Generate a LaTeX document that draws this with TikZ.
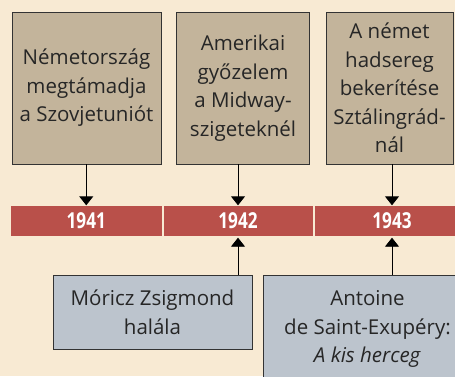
\documentclass[tikz,border=0pt]{standalone}
\usepackage{fontspec}
\setmainfont{Open Sans}
\newfontfamily\yearfont{Open Sans}[FakeStretch=0.78]
\usetikzlibrary{arrows.meta,positioning}

\definecolor{paper}{RGB}{248,234,211}
\definecolor{tanbox}{RGB}{195,180,155}
\definecolor{greybox}{RGB}{188,196,205}
\definecolor{barred}{RGB}{185,80,74}
\definecolor{boxline}{RGB}{51,51,51}

\begin{document}
\begin{tikzpicture}[x=1pt, y=-1pt,
  event/.style={draw=boxline, line width=0.9pt, fill=tanbox, align=center,
    inner sep=0pt, text=black!85, font=\fontsize{20.5}{28.5}\selectfont},
  note/.style={event, fill=greybox},
  seg/.style={fill=barred, text=white, inner sep=0pt, minimum height=30pt,
    font=\yearfont\bfseries\fontsize{22}{22}\selectfont},
  arr/.style={-{Triangle[width=14pt,length=9pt]}, line width=0.9pt, black}]
  % Canvas
  \useasboundingbox (0,0) rectangle (455,376);
  \fill[paper] (0,0) rectangle (455,376);
  \clip (0,0) rectangle (455,376);

  % Time bar
  \node[seg, minimum width=150.5pt] (y1) at (86.25,220.5) {1941};
  \node[seg, minimum width=149pt] (y2) at (238,220.5) {1942};
  \node[seg, minimum width=155pt] (y3) at (392,220.5) {1943};

  % Events above the bar
  \node[event, minimum width=149pt, minimum height=152pt] (ev1) at (86.5,88)
    {Németország\\megtámadja\\a Szovjetuniót};
  \node[event, minimum width=133pt, minimum height=152pt] (ev2) at (243,88)
    {Amerikai\\győzelem\\a Midway-\\szigeteknél};
  \node[event, minimum width=127pt, minimum height=152pt] (ev3) at (389.5,88)
    {A német\\hadsereg\\bekerítése\\Sztálingrád-\\nál};

  % Events below the bar
  \node[note, minimum width=199pt, minimum height=74pt] (nt1) at (152.5,312)
    {Móricz Zsigmond\\halála};
  \node[note, minimum width=208pt, minimum height=108pt] (nt2) at (367.5,329)
    {Antoine\\de Saint-Exupéry:\\\textit{A kis herceg}};

  % Arrows
  \draw[arr] (ev1.south -| y1.north) -- (y1.north);
  \draw[arr] (ev2.south -| y2.north) -- (y2.north);
  \draw[arr] (ev3.south -| y3.north) -- (y3.north);
  \draw[arr, shorten >=2pt] (nt1.north -| y2.south) -- (y2.south);
  \draw[arr, shorten >=2pt] (nt2.north -| y3.south) -- (y3.south);
\end{tikzpicture}
\end{document}
